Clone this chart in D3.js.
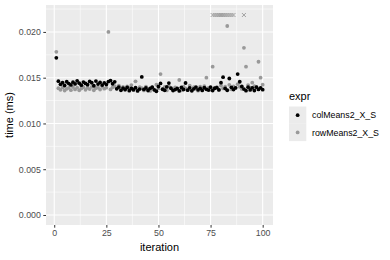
<!DOCTYPE html>
<html>
<head>
<meta charset="utf-8">
<script src="https://cdn.jsdelivr.net/npm/d3@7"></script>
<style>
  body { margin: 0; background: #fff; }
  svg { font-family: "Liberation Sans", Arial, sans-serif; }
</style>
</head>
<body>
<script>
// iterations 1..100
var iterations = d3.range(1, 101);

var colMeans = [
  0.01717, 0.01462, 0.01428, 0.01447, 0.01415, 0.01456, 0.01436, 0.01421, 0.01451, 0.01432,
  0.01466, 0.01440, 0.01418, 0.01452, 0.01437, 0.01424, 0.01459, 0.01445, 0.01412, 0.01463,
  0.01430, 0.01448, 0.01419, 0.01443, 0.01426, 0.01458, 0.01469, 0.01434, 0.01455, 0.01378,
  0.01398, 0.01362, 0.01387, 0.01371, 0.01393, 0.01358, 0.01382, 0.01366, 0.01390, 0.01355,
  0.01376, 0.01509, 0.01372, 0.01388, 0.01360, 0.01383, 0.01397, 0.01368, 0.01352, 0.01404,
  0.01437, 0.01374, 0.01363, 0.01399, 0.01441, 0.01385, 0.01359, 0.01370, 0.01382, 0.01356,
  0.01394, 0.01371, 0.01442, 0.01364, 0.01389, 0.01357, 0.01378, 0.01398, 0.01367, 0.01384,
  0.01361, 0.01392, 0.01373, 0.01365, 0.01397, 0.01360, 0.01385, 0.01391, 0.01366, 0.01446,
  0.01506, 0.01383, 0.01363, 0.01491, 0.01395, 0.01370, 0.01389, 0.01540, 0.01456, 0.01404,
  0.01376, 0.01358, 0.01397, 0.01366, 0.01389, 0.01360, 0.01396, 0.01372, 0.01388, 0.01369
];

var rowMeans = [
  0.01783, 0.01385, 0.01368, 0.01394, 0.01360, 0.01378, 0.01389, 0.01364, 0.01398, 0.01372,
  0.01391, 0.01362, 0.01383, 0.01396, 0.01367, 0.01390, 0.01376, 0.01400, 0.01363, 0.01386,
  0.01393, 0.01370, 0.01402, 0.01380, 0.01391, 0.02000, 0.01372, 0.01395, 0.01408, 0.01385,
  0.01414, 0.01376, 0.01399, 0.01366, 0.01406, 0.01388, 0.01419, 0.01379, 0.01460, 0.01368,
  0.01397, 0.01386, 0.01361, 0.01403, 0.01373, 0.01355, 0.01394, 0.01366, 0.01424, 0.01383,
  0.01540, 0.01372, 0.01399, 0.01361, 0.01406, 0.01387, 0.01367, 0.01395, 0.01378, 0.01475,
  0.01362, 0.01402, 0.01384, 0.01370, 0.01412, 0.01364, 0.01396, 0.01380, 0.01358, 0.01401,
  0.01373, 0.01407, 0.01500, 0.01388, 0.01366, 0.01620, 0.01385, 0.01397, 0.01371, 0.01414,
  0.01383, 0.01402, 0.02065, 0.01422, 0.01374, 0.01406, 0.01387, 0.01429, 0.01400, 0.01377,
  0.01826, 0.01620, 0.01419, 0.01390, 0.01446, 0.01407, 0.01400, 0.01674, 0.01500, 0.01424
];

// rowMeans2 points drawn as crosses at the top
var capIterations = [76, 77, 78, 79, 80, 81, 82, 83, 84, 85, 86, 91];
var capValue = 0.02185;

var xTicks = [0, 25, 50, 75, 100];
var yTicks = [0, 0.005, 0.01, 0.015, 0.02];
var seriesNames = ["colMeans2_X_S", "rowMeans2_X_S"];
var seriesColors = ["#000000", "#999999"];

var width = 390, height = 260;
var panel = { left: 46, right: 273, top: 5, bottom: 225 };

var svg = d3.select("body").append("svg")
  .attr("width", width)
  .attr("height", height);

var xMin = 1, xMax = 100;
var xPad = (xMax - xMin) * 0.05;
var x = d3.scaleLinear()
  .domain([xMin - xPad, xMax + xPad])
  .range([panel.left, panel.right]);

var yMax = d3.max([d3.max(colMeans), d3.max(rowMeans), capValue]);
var yPad = yMax * 0.05;
var y = d3.scaleLinear()
  .domain([-yPad, yMax + yPad])
  .range([panel.bottom, panel.top]);

svg.append("rect")
  .attr("x", panel.left)
  .attr("y", panel.top)
  .attr("width", panel.right - panel.left)
  .attr("height", panel.bottom - panel.top)
  .attr("fill", "#ebebeb");

// minor grid
var xMinor = [12.5, 37.5, 62.5, 87.5];
var yMinor = [0.0025, 0.0075, 0.0125, 0.0175, 0.0225].filter(function (v) {
  return y(v) > panel.top;
});
svg.append("g").selectAll("line.xm").data(xMinor).enter().append("line")
  .attr("x1", function (d) { return x(d); }).attr("x2", function (d) { return x(d); })
  .attr("y1", panel.top).attr("y2", panel.bottom)
  .attr("stroke", "#fff").attr("stroke-width", 0.55);
svg.append("g").selectAll("line.ym").data(yMinor).enter().append("line")
  .attr("y1", function (d) { return y(d); }).attr("y2", function (d) { return y(d); })
  .attr("x1", panel.left).attr("x2", panel.right)
  .attr("stroke", "#fff").attr("stroke-width", 0.55);

// major grid
svg.append("g").selectAll("line").data(xTicks).enter().append("line")
  .attr("x1", function (d) { return x(d); }).attr("x2", function (d) { return x(d); })
  .attr("y1", panel.top).attr("y2", panel.bottom)
  .attr("stroke", "#fff").attr("stroke-width", 1.1);
svg.append("g").selectAll("line").data(yTicks).enter().append("line")
  .attr("y1", function (d) { return y(d); }).attr("y2", function (d) { return y(d); })
  .attr("x1", panel.left).attr("x2", panel.right)
  .attr("stroke", "#fff").attr("stroke-width", 1.1);

// axes
var xAxis = svg.append("g")
  .attr("transform", "translate(0," + panel.bottom + ")")
  .call(d3.axisBottom(x).tickValues(xTicks).tickSize(2.7).tickPadding(2.5).tickFormat(d3.format("d")));
var yAxis = svg.append("g")
  .attr("transform", "translate(" + panel.left + ",0)")
  .call(d3.axisLeft(y).tickValues(yTicks).tickSize(2.7).tickPadding(2.5).tickFormat(d3.format(".3f")));
[xAxis, yAxis].forEach(function (a) {
  a.select(".domain").remove();
  a.selectAll(".tick line").attr("stroke", "#333333").attr("stroke-width", 1);
  a.selectAll(".tick text").attr("fill", "#4d4d4d")
    .style("font-size", "8.8px").style("font-family", "Liberation Sans, Arial, sans-serif");
});

// points
var pts = svg.append("g");
pts.selectAll("circle.row").data(rowMeans).enter().append("circle")
  .attr("cx", function (d, i) { return x(iterations[i]); })
  .attr("cy", function (d) { return y(d); })
  .attr("r", 1.9)
  .attr("fill", seriesColors[1]);
pts.selectAll("circle.col").data(colMeans).enter().append("circle")
  .attr("cx", function (d, i) { return x(iterations[i]); })
  .attr("cy", function (d) { return y(d); })
  .attr("r", 1.9)
  .attr("fill", seriesColors[0]);

var cs = 2;
pts.selectAll("path.cap").data(capIterations).enter().append("path")
  .attr("d", function (d) {
    var cx = x(d), cy = y(capValue);
    return "M" + (cx - cs) + "," + (cy - cs) + "L" + (cx + cs) + "," + (cy + cs) +
      "M" + (cx - cs) + "," + (cy + cs) + "L" + (cx + cs) + "," + (cy - cs);
  })
  .attr("stroke", seriesColors[1])
  .attr("stroke-width", 0.9)
  .attr("fill", "none");

// axis titles
svg.append("text")
  .attr("x", (panel.left + panel.right) / 2)
  .attr("y", 251)
  .attr("text-anchor", "middle")
  .style("font-size", "11px")
  .attr("fill", "#000")
  .text("iteration");
svg.append("text")
  .attr("transform", "translate(13," + (panel.top + panel.bottom) / 2 + ") rotate(-90)")
  .attr("text-anchor", "middle")
  .style("font-size", "11px")
  .attr("fill", "#000")
  .text("time (ms)");

// legend
var legend = svg.append("g").attr("transform", "translate(289,0)");
legend.append("text")
  .attr("x", 0).attr("y", 100)
  .style("font-size", "11px")
  .text("expr");
var keys = legend.selectAll("g.key").data(seriesNames).enter().append("g")
  .attr("transform", function (d, i) { return "translate(0," + (106.5 + i * 17.3) + ")"; });
keys.append("rect")
  .attr("width", 17.3).attr("height", 17.3)
  .attr("fill", "#ebebeb");
keys.append("circle")
  .attr("cx", 8.65).attr("cy", 8.65).attr("r", 1.9)
  .attr("fill", function (d, i) { return seriesColors[i]; });
keys.append("text")
  .attr("x", 23).attr("y", 8.65).attr("dy", "0.35em")
  .style("font-size", "8.8px")
  .attr("fill", "#000")
  .text(function (d) { return d; });
</script>
</body>
</html>
